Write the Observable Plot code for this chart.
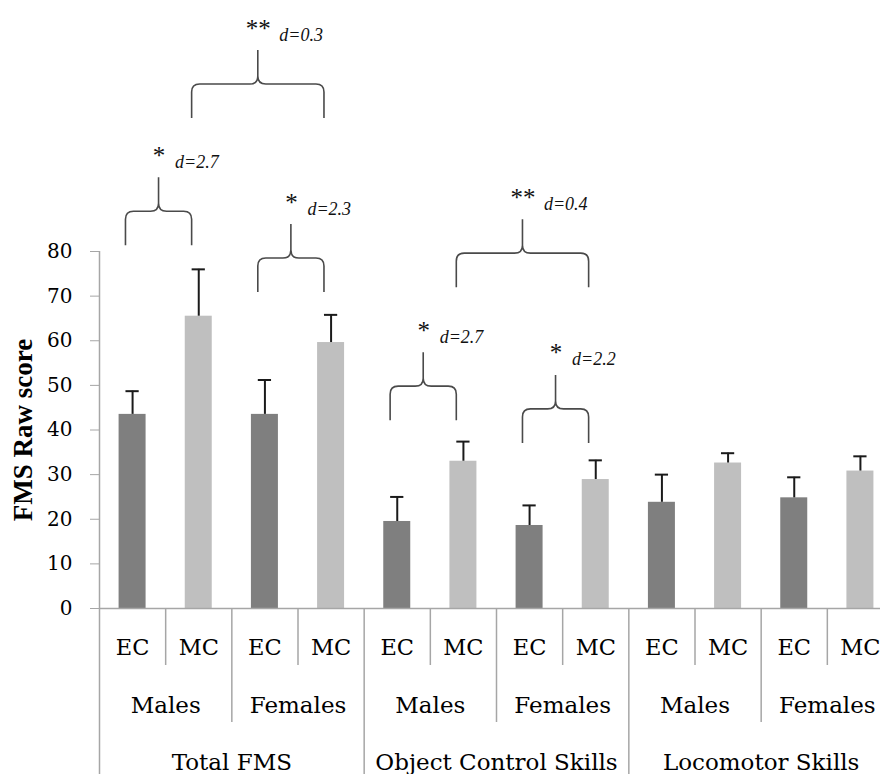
<!DOCTYPE html>
<html>
<head>
<meta charset="utf-8">
<script src="https://cdn.jsdelivr.net/npm/d3@7"></script>
<script src="https://cdn.jsdelivr.net/npm/@observablehq/plot@0.6"></script>
<style>
html, body { margin: 0; padding: 0; background: #fff; overflow: hidden; }
</style>
</head>
<body>
<div id="chart"></div>
<script>
// ---- data ----
const skills = ["Total FMS", "Object Control Skills", "Locomotor Skills"];
const sexes = ["Males", "Females"];
const groups = ["EC", "MC"];
const means  = [43.5, 65.5, 43.5, 59.6, 19.5, 33.0, 18.6, 28.9, 23.8, 32.6, 24.8, 30.8];
const errors = [5.2, 10.5, 7.7, 6.2, 5.5, 4.4, 4.5, 4.3, 6.2, 2.2, 4.6, 3.3];
const yTicks = [0, 10, 20, 30, 40, 50, 60, 70, 80];
const yLabel = "FMS Raw score";
// significance braces: bar index from / to, level of the brace foot (score units), stars, effect size
const braceFrom  = [0, 2, 1, 4, 6, 5];
const braceTo    = [1, 3, 3, 5, 7, 7];
const braceLevel = [81.3, 70.8, 109.8, 42.1, 37.0, 71.9];
const braceStars = ["*", "*", "**", "*", "*", "**"];
const braceD     = ["d=2.7", "d=2.3", "d=0.3", "d=2.7", "d=2.2", "d=0.4"];

// ---- tables built from the arrays ----
const rows = means.map((m, i) => ({
  i,
  skill: skills[Math.floor(i / 4)],
  sex: sexes[Math.floor(i / 2) % 2],
  group: groups[i % 2],
  mean: m,
  err: errors[i]
}));
const sexRows = [];
skills.forEach((s, k) => sexes.forEach((x, j) => sexRows.push({pos: k * 4 + j * 2 + 1, text: x})));
const skillRows = skills.map((s, k) => ({pos: k * 4 + 2, text: s}));
const braces = braceFrom.map((f, k) => ({
  from: f, to: braceTo[k], level: braceLevel[k], stars: braceStars[k], d: braceD[k],
  mid: (f + braceTo[k]) / 2 + 0.4
}));

const sepSkill = d3.range(0, 13, 4);
const sepSex = [2, 6, 10];
const sepGroup = [1, 3, 5, 7, 9, 11];

const LEG = 34, PEAK = 34, R = 8;
function braceShapes(index, scales) {
  const {x, y} = scales;
  const g = d3.create("svg:g")
    .attr("fill", "none")
    .attr("stroke", "#4a4a4a")
    .attr("stroke-width", 1.6);
  for (const b of braces) {
    const xl = x(b.from + 0.4), xr = x(b.to + 0.4), xm = (xl + xr) / 2;
    const yb = y(b.level), yh = yb - LEG, yt = yh - PEAK;
    const p = d3.path();
    p.moveTo(xl, yb);
    p.lineTo(xl, yh + R);
    p.quadraticCurveTo(xl, yh, xl + R, yh);
    p.lineTo(xm - R, yh);
    p.quadraticCurveTo(xm, yh, xm, yh - R);
    p.lineTo(xm, yt);
    p.moveTo(xr, yb);
    p.lineTo(xr, yh + R);
    p.quadraticCurveTo(xr, yh, xr - R, yh);
    p.lineTo(xm + R, yh);
    p.quadraticCurveTo(xm, yh, xm, yh - R);
    g.append("path").attr("d", p.toString());
  }
  return g.node();
}

const serif = "DejaVu Serif";
const grid = "#a6a6a6";
const ink = "#000";

const chart = Plot.plot({
  width: 880,
  height: 774,
  marginTop: 251,
  marginBottom: 166,
  marginLeft: 99,
  marginRight: 0,
  style: {fontFamily: serif, fontSize: "20px", background: "#fff", overflow: "hidden"},
  x: {type: "linear", domain: [0, 12], range: [99, 893], axis: null},
  y: {domain: [0, 80]},
  color: {domain: groups, range: ["#7f7f7f", "#bfbfbf"]},
  marks: [
    // bars
    Plot.rectY(rows, {x1: d => d.i + 0.296, x2: d => d.i + 0.704, y1: 0, y2: "mean", fill: "group"}),
    // error bars (upper only)
    Plot.ruleX(rows, {x: d => d.i + 0.5, y1: "mean", y2: d => d.mean + d.err, stroke: "#1a1a1a", strokeWidth: 2}),
    Plot.ruleY(rows, {x1: d => d.i + 0.4, x2: d => d.i + 0.6, y: d => d.mean + d.err, stroke: "#1a1a1a", strokeWidth: 2}),
    // axes lines
    Plot.ruleY([0], {stroke: grid, strokeWidth: 1.5}),
    Plot.ruleX([0], {stroke: grid, strokeWidth: 1.5}),
    Plot.axisY({ticks: yTicks, tickSize: 9, tickPadding: 18, stroke: grid, fill: ink,
      fontSize: 20, fontFamily: serif, label: null}),
    // hierarchical category separators
    Plot.ruleX(sepGroup, {x: d => d, y1: 0, y2: 0, insetBottom: -57, stroke: grid, strokeWidth: 1.5}),
    Plot.ruleX(sepSex, {x: d => d, y1: 0, y2: 0, insetBottom: -114, stroke: grid, strokeWidth: 1.5}),
    Plot.ruleX(sepSkill, {x: d => d, y1: 0, y2: 0, insetBottom: -166, stroke: grid, strokeWidth: 1.5}),
    // category labels
    Plot.text(rows, {x: d => d.i + 0.5, text: "group", frameAnchor: "bottom", lineAnchor: "middle", dy: 39,
      fontSize: 22.5, fontFamily: serif, fill: ink}),
    Plot.text(sexRows, {x: "pos", text: "text", frameAnchor: "bottom", lineAnchor: "middle", dy: 97,
      fontSize: 23, fontFamily: serif, fill: ink}),
    Plot.text(skillRows, {x: "pos", text: "text", frameAnchor: "bottom", lineAnchor: "middle", dy: 154,
      fontSize: 23, fontFamily: serif, fill: ink}),
    // y label
    Plot.text([yLabel], {frameAnchor: "left", textAnchor: "middle", lineAnchor: "middle", dx: -76, rotate: -90,
      fontSize: 27, fontWeight: "bold", fontFamily: "Liberation Serif", fill: ink}),
    // braces
    braceShapes,
    Plot.text(braces, {x: "mid", y: "level", text: "stars", dy: -(LEG + PEAK + 14), lineAnchor: "bottom",
      fontSize: 25, fontFamily: "Liberation Serif", fill: "#111"}),
    Plot.text(braces.filter(b => b.stars.length === 1), {x: "mid", y: "level", text: "d", dx: 16, dy: -(LEG + PEAK + 10),
      lineAnchor: "bottom", textAnchor: "start", fontSize: 18, fontStyle: "italic", fontFamily: "Liberation Serif", fill: "#111"}),
    Plot.text(braces.filter(b => b.stars.length === 2), {x: "mid", y: "level", text: "d", dx: 21, dy: -(LEG + PEAK + 10),
      lineAnchor: "bottom", textAnchor: "start", fontSize: 18, fontStyle: "italic", fontFamily: "Liberation Serif", fill: "#111"})
  ]
});
document.getElementById("chart").appendChild(chart);
</script>
</body>
</html>
